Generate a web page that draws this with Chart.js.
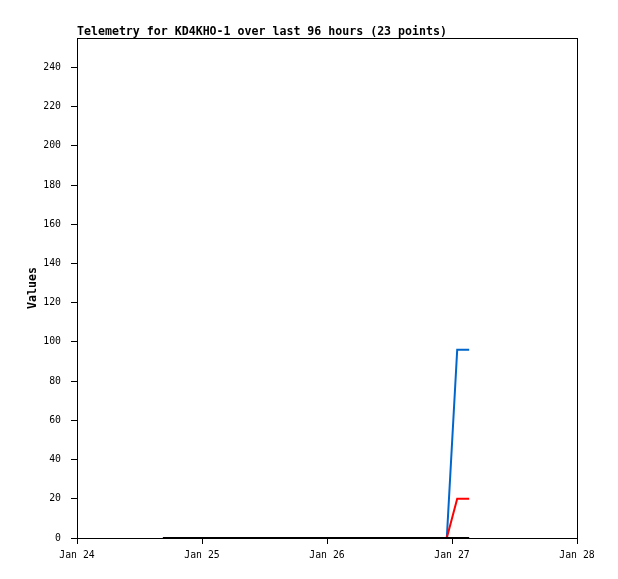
<!DOCTYPE html>
<html>
<head>
<meta charset="utf-8">
<script src="https://cdn.jsdelivr.net/npm/chart.js@4.4.1/dist/chart.umd.min.js"></script>
<style>
  html, body { margin: 0; padding: 0; background: #fff; }
  #wrap { width: 618px; height: 579px; }
</style>
</head>
<body>
<div id="wrap"><canvas id="chart"></canvas></div>
<script>
// hours since Jan 24 00:00
const hours = [16.5, 19.5, 22.5, 25.5, 28.5, 31.5, 34.5, 37.5, 40.5, 43.5, 46.5, 49.5,
  52.5, 55.5, 58.5, 61.5, 64.5, 67, 69, 71, 73, 74.2, 75.3];
const blueValues = [0, 0, 0, 0, 0, 0, 0, 0, 0, 0, 0, 0, 0, 0, 0, 0, 0, 0, 0, 0, 96, 96, 96];
const redValues = [0, 0, 0, 0, 0, 0, 0, 0, 0, 0, 0, 0, 0, 0, 0, 0, 0, 0, 0, 0, 20, 20, 20];
const blackValues = [0, 0, 0, 0, 0, 0, 0, 0, 0, 0, 0, 0, 0, 0, 0, 0, 0, 0, 0, 0, 0, 0, 0];
const dayLabels = ["Jan 24", "Jan 25", "Jan 26", "Jan 27", "Jan 28"];
const titleText = "Telemetry for KD4KHO-1 over last 96 hours (23 points)";

const toPoints = (vals) => vals.map((v, i) => ({ x: hours[i], y: v }));

const mono = "'DejaVu Sans Mono', 'Liberation Mono', monospace";

const framePlugin = {
  id: "frame",
  afterDraw(chart) {
    const { ctx, chartArea: a } = chart;
    ctx.save();
    ctx.strokeStyle = "#000";
    ctx.lineWidth = 1;
    ctx.strokeRect(a.left + 0.5, a.top + 0.5, a.right - a.left, a.bottom - a.top);
    ctx.fillStyle = "#000";
    ctx.font = "bold 11.6px " + mono;
    ctx.textBaseline = "alphabetic";
    ctx.textAlign = "left";
    ctx.fillText(titleText, a.left, a.top - 3);
    ctx.restore();
  },
};

const line = (data, color) => ({
  data: toPoints(data),
  borderColor: color,
  backgroundColor: color,
  borderWidth: 2,
  pointRadius: 0,
  tension: 0,
  clip: 4,
});

new Chart(document.getElementById("chart"), {
  type: "line",
  data: {
    datasets: [
      line(blackValues, "#000000"),
      line(redValues, "#ff0000"),
      line(blueValues, "#0066cc"),
    ],
  },
  options: {
    responsive: true,
    maintainAspectRatio: false,
    animation: false,
    layout: { padding: { top: 38, right: 41, left: 0, bottom: 0 } },
    plugins: { legend: { display: false }, tooltip: { enabled: false } },
    scales: {
      x: {
        type: "linear",
        min: 0,
        max: 96,
        afterFit(scale) { scale.height = 41; },
        border: { color: "#000", width: 1 },
        grid: { drawOnChartArea: false, drawTicks: true, tickLength: 6, color: "#000" },
        ticks: {
          stepSize: 24,
          color: "#000",
          padding: 6,
          maxRotation: 0,
          font: { family: mono, size: 9.8 },
          callback: (v) => dayLabels[v / 24],
        },
      },
      y: {
        min: 0,
        max: 255,
        afterFit(scale) { scale.width = 77; },
        border: { color: "#000", width: 1 },
        grid: { drawOnChartArea: false, drawTicks: true, tickLength: 6, color: "#000" },
        title: {
          display: true,
          text: "Values",
          color: "#000",
          font: { family: mono, size: 11.6, weight: "bold" },
          padding: { top: 26, bottom: 0 },
        },
        ticks: {
          stepSize: 20,
          includeBounds: false,
          color: "#000",
          padding: 10,
          font: { family: mono, size: 9.8 },
        },
      },
    },
  },
  plugins: [framePlugin],
});
</script>
</body>
</html>
